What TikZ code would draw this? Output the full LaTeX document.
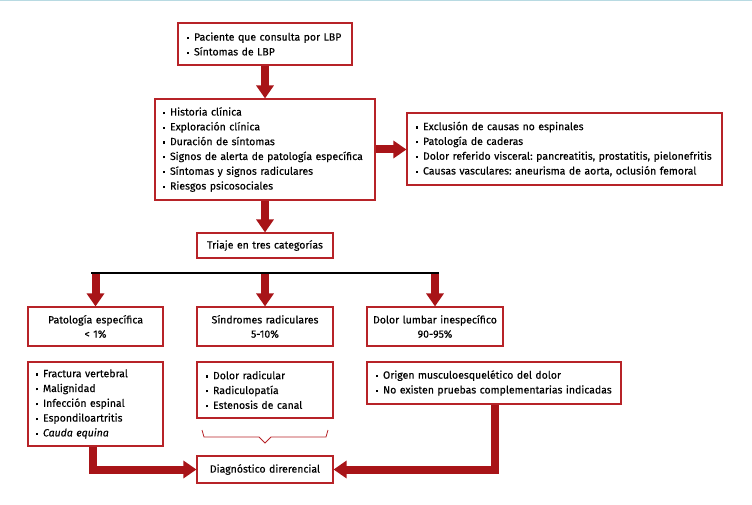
\documentclass[tikz,border=0pt]{standalone}
\usepackage{fontspec}
\setmainfont{Fira Sans}[FakeBold=0.3]
\usetikzlibrary{positioning,calc,arrows.meta}
\definecolor{boxred}{RGB}{183,35,40}
\definecolor{arrowred}{RGB}{168,20,24}
\definecolor{topblue}{RGB}{184,218,226}
\newcommand{\itm}{\rule[0.28ex]{0.22em}{0.22em}\hspace{0.45em}}
\frenchspacing

\begin{document}
\begin{tikzpicture}[x=1pt,y=-1pt,
  box/.style={draw=boxred,line width=1.1pt,fill=white,inner sep=0pt,
    font=\fontsize{10.5}{14.8}\selectfont},
  listbox/.style={box,align=left},
  catbox/.style={box,align=center,minimum width=136,text width=132,
    font=\fontsize{10.5}{14.2}\selectfont},
  bigarrow/.style={draw=arrowred,line width=8pt,line join=miter,
    -{Triangle[length=13pt,width=17pt]}}]

% Page frame
\useasboundingbox (0,0) rectangle (752,505);
\draw[topblue,line width=1.5pt] (0,0.75) -- (752,0.75);

% First boxes
\node[listbox,minimum width=174,text width=156,minimum height=42] (consulta) at (265,44)
  {\itm Paciente que consulta por LBP\\ \itm Síntomas de LBP};
\node[listbox,minimum width=220,text width=204,minimum height=101] (historia) at (265,149.5)
  {\itm Historia clínica\\ \itm Exploración clínica\\ \itm Duración de síntomas\\
   \itm Signos de alerta de patología específica\\ \itm Síntomas y signos radiculares\\
   \itm Riesgos psicosociales};
\node[listbox,minimum width=315,text width=297,minimum height=72] (exclusion) at (564.5,149)
  {\itm Exclusión de causas no espinales\\ \itm Patología de caderas\\
   \itm Dolor referido visceral: pancreatitis, prostatitis, pielonefritis\\
   \itm Causas vasculares: aneurisma de aorta, oclusión femoral};
\node[catbox,minimum height=25] (triaje) at (265,245.5) {Triaje en tres categorías};

% Three categories
\node[catbox,minimum width=135,minimum height=39] (esp) at (95.5,326.5)
  {Patología específica\\ < 1\%};
\node[catbox,minimum height=39] (rad) at (265,326.5) {Síndromes radiculares\\ 5-10\%};
\node[catbox,minimum height=39] (ines) at (435,326.5) {Dolor lumbar inespecífico\\ 90-95\%};

% Lists below the categories
\node[listbox,minimum width=135,text width=119,minimum height=84] (espList) at (95.5,404)
  {\itm Fractura vertebral\\ \itm Malignidad\\ \itm Infección espinal\\
   \itm Espondiloartritis\\ \itm \textit{Cauda equina}};
\node[listbox,minimum width=136,text width=118,minimum height=56] (radList) at (265,390)
  {\itm Dolor radicular\\ \itm Radiculopatía\\ \itm Estenosis de canal};
\node[listbox,minimum width=254,text width=236,minimum height=42] (inesList) at (494,383)
  {\itm Origen musculoesquelético del dolor\\ \itm No existen pruebas complementarias indicadas};
\node[catbox,minimum height=27] (diag) at (265,469.5) {Diagnóstico direrencial};

% Arrows
\draw[bigarrow] (consulta) -- (historia);
\draw[bigarrow] (historia.east) -- (historia.east -| exclusion.west);
\draw[bigarrow] (historia) -- (triaje);

\coordinate (splitL) at (91,273);
\coordinate (splitR) at (439,273);
\draw[bigarrow] (esp.north |- splitL) -- (esp.north);
\draw[bigarrow] (rad.north |- splitL) -- (rad.north);
\draw[bigarrow] (ines.north |- splitL) -- (ines.north);
\draw[line width=2.5pt] (splitL) -- (splitR);

\draw[bigarrow] ([xshift=-2.5pt]espList.south) |- (diag.west);
\draw[bigarrow] ([xshift=1pt]inesList.south) |- (diag.east);

% Brace under the radicular list
\draw[boxred,line width=0.8pt] (202,430) -- (204,437) -- (259,437) -- (265,443)
  -- (271,437) -- (326,437) -- (328,430);

\end{tikzpicture}
\end{document}
